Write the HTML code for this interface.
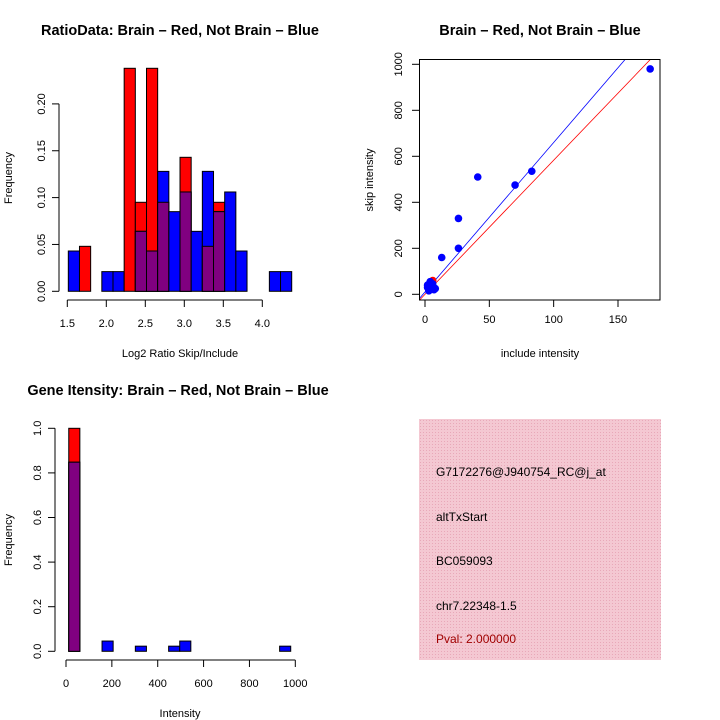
<!DOCTYPE html>
<html><head><meta charset="utf-8"><style>
body{margin:0;background:#fff}
svg{display:block;font-family:"Liberation Sans",sans-serif}
</style></head><body>
<svg id="s" width="720" height="720" viewBox="0 0 720 720">
<defs><pattern id="hatch" width="3" height="3" patternUnits="userSpaceOnUse"><rect width="3" height="3" fill="#f4c8d2"/><rect width="1" height="1" fill="#e8a8b8"/></pattern></defs>
<rect x="419" y="419" width="242" height="241" fill="url(#hatch)"/>
<g font-size="12">
<text x="436" y="476">G7172276@J940754_RC@j_at</text>
<text x="436" y="521">altTxStart</text>
<text x="436" y="565">BC059093</text>
<text x="436" y="610">chr7.22348-1.5</text>
<text x="436" y="643" fill="#a00000">Pval: 2.000000</text>
</g>
</svg>
<script>
// Ratio histogram (top-left)
const ratioBinStart = 1.513, ratioBinWidth = 0.1432;
const ratioRed  = [0,0.048,0,0,0,0.238,0.095,0.238,0.095,0,0.143,0,0.048,0.095,0,0,0,0,0,0];
const ratioBlue = [0.043,0,0,0.021,0.021,0,0.064,0.043,0.128,0.085,0.106,0.064,0.128,0.085,0.106,0.043,0,0,0.021,0.021];
const ratioXTicks = [1.5,2.0,2.5,3.0,3.5,4.0];
const ratioYTicks = [0,0.05,0.10,0.15,0.20];
// Scatter (top-right)
const incBlue = [175,83,70,41,26,26,13,2,3,4,5,6,8,3,5,7,2,4];
const skipBlue = [980,535,475,510,330,200,160,40,20,50,30,45,25,15,35,20,30,55];
const incRed = [6,3];
const skipRed = [60,20];
const lineSlopes = [6.5,5.83];
const lineIntercepts = [10,0];
const lineColors = ["blue","red"];
const scatXTicks = [0,50,100,150];
const scatYTicks = [0,200,400,600,800,1000];
// Intensity histogram (bottom-left)
const intBinStart = 12, intBinWidth = 48.4;
const intRed  = [1.0,0,0,0,0,0,0,0,0,0,0,0,0,0,0,0,0,0,0,0];
const intBlue = [0.848,0,0,0.046,0,0,0.023,0,0,0.023,0.046,0,0,0,0,0,0,0,0,0.023];
const intXTicks = [0,200,400,600,800,1000];
const intYTicks = [0,0.2,0.4,0.6,0.8,1.0];

const NS="http://www.w3.org/2000/svg", svg=document.getElementById('s');
function mk(t,a,p){const e=document.createElementNS(NS,t);for(const k in a)e.setAttribute(k,a[k]);(p||svg).appendChild(e);return e;}
function txt(x,y,s,a){const e=mk('text',Object.assign({x:x,y:y,'text-anchor':'middle','font-size':11},a||{}));e.textContent=s;return e;}

function hist(o){
  const X=v=>o.x0+(v-o.xv0)*o.xs, Y=v=>o.y0-v*o.ys;
  for(let i=0;i<o.red.length;i++){
    const a=o.bs+i*o.bw, b=a+o.bw, r=o.red[i], bl=o.blue[i], m=Math.min(r,bl);
    const bars=[[r,'red'],[bl,'blue'],[m,'#800080']];
    bars.forEach(([h,c])=>{ if(h>0){
      const e=mk('rect',{x:X(a),y:Y(h),width:X(b)-X(a),height:Y(0)-Y(h),fill:c,stroke:'#000','stroke-width':1});
      
      
    }});
  }
  mk('line',{x1:o.yax,x2:o.yax,y1:Y(o.yt[0]),y2:Y(o.yt[o.yt.length-1]),stroke:'#000'});
  o.yt.forEach(v=>{mk('line',{x1:o.yax-7,x2:o.yax,y1:Y(v),y2:Y(v),stroke:'#000'});
    const t=txt(o.yax-14,Y(v),o.yfmt(v),{transform:`rotate(-90 ${o.yax-14} ${Y(v)})`});
    
    });
  mk('line',{x1:X(o.xt[0]),x2:X(o.xt[o.xt.length-1]),y1:o.xax,y2:o.xax,stroke:'#000'});
  o.xt.forEach(v=>{mk('line',{x1:X(v),x2:X(v),y1:o.xax,y2:o.xax+7,stroke:'#000'});
    const t=txt(X(v),o.xax+27,o.xfmt(v));
    
    });
}
hist({id:'ratio',x0:67.3,xv0:1.5,xs:78,y0:291.3,ys:937,red:ratioRed,blue:ratioBlue,bs:ratioBinStart,bw:ratioBinWidth,
  xt:ratioXTicks,yt:ratioYTicks,yax:59,xax:300,xfmt:v=>v.toFixed(1),yfmt:v=>v.toFixed(2)});
hist({id:'int',x0:66,xv0:0,xs:0.2293,y0:651.3,ys:223,red:intRed,blue:intBlue,bs:intBinStart,bw:intBinWidth,
  xt:intXTicks,yt:intYTicks,yax:55,xax:660,xfmt:v=>String(v),yfmt:v=>v.toFixed(1)});

// scatter
(function(){
  const X=v=>425+v*1.2866, Y=v=>294.3-v*0.23;
  const cp=mk('clipPath',{id:'cp'});mk('rect',{x:419.5,y:59.5,width:240.5,height:240.5},cp);
  const g=mk('g',{'clip-path':'url(#cp)'});
  lineSlopes.forEach((s,i)=>{const b=lineIntercepts[i];
    const e=mk('line',{x1:X(-10),y1:Y(b-10*s),x2:X(200),y2:Y(b+200*s),stroke:lineColors[i],'stroke-width':0.8},g);
    
    });
  incRed.forEach((v,i)=>{const e=mk('circle',{cx:X(v),cy:Y(skipRed[i]),r:3.8,fill:'red'},g);
    
    });
  incBlue.forEach((v,i)=>{const e=mk('circle',{cx:X(v),cy:Y(skipBlue[i]),r:3.8,fill:'blue'},g);
    
    });
  mk('rect',{x:419.5,y:59.5,width:240.5,height:240.5,fill:'none',stroke:'#000'});
  scatXTicks.forEach(v=>{mk('line',{x1:X(v),x2:X(v),y1:300,y2:307,stroke:'#000'});
    const t=txt(X(v),323,String(v));
    
    });
  scatYTicks.forEach(v=>{mk('line',{x1:412,x2:419.5,y1:Y(v),y2:Y(v),stroke:'#000'});
    const t=txt(402,Y(v),String(v),{transform:`rotate(-90 402 ${Y(v)})`});
    
    });
})();
</script>
<script>
(function(){
const NS="http://www.w3.org/2000/svg",svg=document.getElementById('s');
function t(x,y,s,name,a){const e=document.createElementNS(NS,'text');e.setAttribute('x',x);e.setAttribute('y',y);e.setAttribute('text-anchor','middle');e.setAttribute('font-size',a&&a.fs||11);
 if(a&&a.bold)e.setAttribute('font-weight','bold');if(a&&a.rot)e.setAttribute('transform',`rotate(-90 ${x} ${y})`);e.textContent=s;
 
 
 svg.appendChild(e);}
t(180,35,'RatioData: Brain \u2013 Red, Not Brain \u2013 Blue','title-ratio',{bold:1,fs:14.5});
t(540,35,'Brain \u2013 Red, Not Brain \u2013 Blue','title-scatter',{bold:1,fs:14.5});
t(178,395,'Gene Itensity: Brain \u2013 Red, Not Brain \u2013 Blue','title-intensity',{bold:1,fs:14.5});
t(180,357,'Log2 Ratio Skip/Include','x-axis-title-ratio');
t(540,357,'include intensity','x-axis-title-scatter');
t(180,717,'Intensity','x-axis-title-intensity');
t(12,178,'Frequency','y-axis-title-ratio',{rot:1});
t(373,180,'skip intensity','y-axis-title-scatter',{rot:1});
t(12,540,'Frequency','y-axis-title-intensity',{rot:1});
})();
</script>
</body></html>
